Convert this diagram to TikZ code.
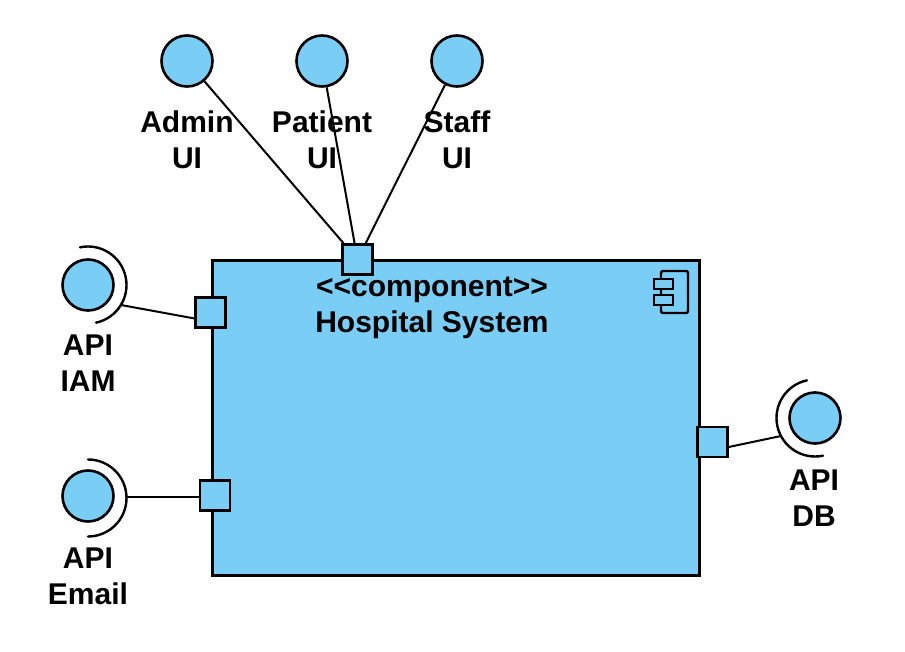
\documentclass[tikz,border=0pt]{standalone}
\usepackage{fontspec}
\setmainfont{Liberation Sans}
\definecolor{umlblue}{HTML}{7ACEF5}
\tikzset{
  iface/.style={circle,draw=black,fill=umlblue,line width=2.6pt,minimum size=51pt,inner sep=0pt},
  portbox/.style={rectangle,draw=black,fill=umlblue,line width=2.6pt,minimum size=30pt,inner sep=0pt},
  sysbox/.style={rectangle,draw=black,fill=umlblue,line width=2.6pt,minimum width=487pt,minimum height=315pt,inner sep=0pt},
  lbl/.style={font=\bfseries\fontsize{30}{36}\selectfont,align=center,text=black,inner sep=0pt},
  conn/.style={draw=black,line width=2pt},
  socket/.style={draw=black,line width=2.4pt,line cap=round},
  icon/.style={draw=black,line width=2.4pt,fill=umlblue}
}
\begin{document}
\begin{tikzpicture}[x=1pt,y=-1pt]
\useasboundingbox (0,0) rectangle (905,652);
\fill[white] (0,0) rectangle (905,652);
% system
\node[sysbox] (sys) at (456,418) {};
% interfaces
\node[iface] (admin) at (187,61) {};
\node[iface] (patient) at (322,61) {};
\node[iface] (staff) at (457,61) {};
\node[iface] (iam) at (88,285) {};
\node[iface] (email) at (88,496) {};
\node[iface] (db) at (815,418) {};
% sockets
\coordinate (iamsock) at (121,305);
\coordinate (emailsock) at (126,497);
\coordinate (dbsock) at (781,436);
\draw[socket] (88,285) ++(78:38.5) arc[start angle=78,end angle=-102,radius=38.5];
\draw[socket] (88,498) ++(90:38.5) arc[start angle=90,end angle=-90,radius=38.5];
\draw[socket] (815,418) ++(-102:38.5) arc[start angle=-102,end angle=-282,radius=38.5];
% fix orientation handled below
% ports
\node[portbox] (ptop) at (357.5,259.5) {};
\node[portbox] (piam) at (210.5,312.5) {};
\node[portbox] (pemail) at (215,495.5) {};
\node[portbox] (pdb) at (712.5,442) {};
% connectors
\draw[conn] (admin) -- (ptop);
\draw[conn] (patient) -- (ptop);
\draw[conn] (staff) -- (ptop);
\draw[conn] (iamsock) -- (piam.200);
\draw[conn] (emailsock) -- (pemail.west |- emailsock);
\draw[conn] (dbsock) -- (pdb.-17);
% labels
\node[lbl] (ladmin) at (187,140) {Admin\\UI};
\node[lbl] (lpatient) at (322,140) {Patient\\UI};
\node[lbl] (lstaff) at (457,140) {Staff\\UI};
\node[lbl] (liam) at (88,363) {API\\IAM};
\node[lbl] (lemail) at (88,576) {API\\Email};
\node[lbl] (ldb) at (814,498) {API\\DB};
\node[lbl] (lsys) at (432,308) {<{}<component>{}>\\Hospital System};
% component icon
\draw[icon,rounded corners=2pt] (661,271) -- (688,271) -- (688,313) -- (661,313) -- cycle;
\draw[icon] (654,279) rectangle (673,289);
\draw[icon] (654,295) rectangle (673,305);
\end{tikzpicture}
\end{document}
